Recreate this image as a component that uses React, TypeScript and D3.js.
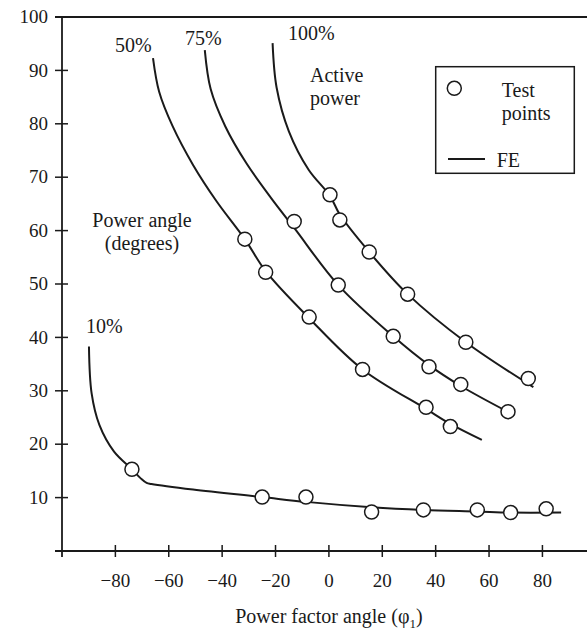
import React from "react";
import * as d3 from "d3";

// Test points (power factor angle, power angle in degrees)
const pts10: [number, number][] = [
  [-73.8, 15.3], [-25.0, 10.1], [-8.6, 10.1], [16.0, 7.3], [35.4, 7.7], [55.6, 7.7], [68.1, 7.2], [81.4, 7.9],
];
const pts50: [number, number][] = [
  [-31.5, 58.4], [-23.7, 52.2], [-7.4, 43.8], [12.6, 34.0], [36.4, 26.9], [45.5, 23.3],
];
const pts75: [number, number][] = [
  [-13.0, 61.7], [3.5, 49.8], [24.1, 40.2], [37.5, 34.5], [49.4, 31.2], [67.1, 26.1],
];
const pts100: [number, number][] = [
  [0.4, 66.7], [4.1, 62.0], [15.1, 56.0], [29.5, 48.1], [51.3, 39.1], [74.7, 32.3],
];

// FE curves
const fe10: [number, number][] = [
  [-89.9, 38.3], [-88.9, 29.5], [-86.0, 23.6], [-80.5, 18.6], [-73.8, 15.3], [-70.5, 13.6], [-68.3, 12.75],
  [-66.5, 12.55], [-50.9, 11.5], [-25.0, 10.1], [-8.6, 9.2], [16.0, 8.2], [35.4, 7.7], [55.6, 7.4], [68.1, 7.2], [87.0, 7.2],
];
const fe50: [number, number][] = [
  [-65.9, 92.3], [-63.6, 86.0], [-58.6, 79.6], [-50.9, 72.3], [-42.1, 65.5], [-31.5, 58.4],
  [-23.7, 52.4], [-7.4, 43.6], [12.6, 34.0], [36.4, 26.6], [45.5, 23.8], [57.3, 20.8],
];
const fe75: [number, number][] = [
  [-46.5, 93.8], [-44.3, 86.5], [-38.8, 79.5], [-30.9, 72.6], [-21.5, 66.0], [-13.0, 60.5],
  [3.5, 49.8], [24.1, 40.2], [37.5, 34.8], [49.4, 30.9], [67.3, 26.0],
];
const fe100: [number, number][] = [
  [-21.1, 95.1], [-19.6, 86.8], [-15.0, 78.6], [-7.6, 71.4], [0.4, 66.5], [4.1, 63.0],
  [15.1, 56.0], [29.5, 48.1], [51.3, 39.1], [76.6, 30.7],
];

const xTicks = [-80, -60, -40, -20, 0, 20, 40, 60, 80];
const yTicks = [10, 20, 30, 40, 50, 60, 70, 80, 90, 100];

const W = 587;
const H = 631;
const FONT = "'Liberation Serif', 'Times New Roman', serif";
const INK = "#1a1a1a";

export default function App() {
  const x = d3.scaleLinear().domain([-100, 96.7]).range([62, 587]);
  const y = d3.scaleLinear().domain([0, 100]).range([551, 17]);
  const line = d3
    .line<[number, number]>()
    .x((d) => x(d[0]))
    .y((d) => y(d[1]))
    .curve(d3.curveCatmullRom.alpha(0.5));

  const curves = [fe10, fe50, fe75, fe100];
  const points = [...pts10, ...pts50, ...pts75, ...pts100];
  const fmt = (v: number) => (v < 0 ? "\u2212" + Math.abs(v) : String(v));

  return (
    <svg
      width={W}
      height={H}
      style={{ position: "absolute", left: 0, top: 0, background: "#fff" }}
      fontFamily={FONT}
    >
      <rect x={0} y={0} width={W} height={H} fill="#fff" />
      {/* axes */}
      <line x1={x(-100)} x2={x(-100)} y1={y(100)} y2={y(0) + 6} stroke={INK} strokeWidth={1.8} />
      <line x1={x(-100) - 7} x2={W} y1={y(0)} y2={y(0)} stroke={INK} strokeWidth={1.8} />
      <line x1={x(-100) - 7} x2={W} y1={y(100)} y2={y(100)} stroke={INK} strokeWidth={1.8} />
      {yTicks.map((t) => (
        <g key={"y" + t}>
          <line x1={x(-100) - 7} x2={x(-100) + 6} y1={y(t)} y2={y(t)} stroke={INK} strokeWidth={1.5} />
          <text x={48} y={y(t)} dy="0.33em" textAnchor="end" fontSize={19} fill={INK}>
            {t}
          </text>
        </g>
      ))}
      {xTicks.map((t) => (
        <g key={"x" + t}>
          <line x1={x(t)} x2={x(t)} y1={y(0) - 6} y2={y(0) + 6} stroke={INK} strokeWidth={1.5} />
          <text x={x(t)} y={y(0) + 36} textAnchor="middle" fontSize={19} fill={INK}>
            {fmt(t)}
          </text>
        </g>
      ))}
      <text x={x(0)} y={623} textAnchor="middle" fontSize={20} fill={INK}>
        Power factor angle (φ
        <tspan fontSize={13} dy={5}>1</tspan>
        <tspan dy={-5}>)</tspan>
      </text>

      {/* FE curves */}
      {curves.map((c, i) => (
        <path key={"c" + i} d={line(c) || ""} fill="none" stroke={INK} strokeWidth={2} />
      ))}
      {/* test points */}
      {points.map((p, i) => (
        <circle key={"p" + i} cx={x(p[0])} cy={y(p[1])} r={7} fill="#fff" stroke={INK} strokeWidth={1.5} />
      ))}

      {/* annotations */}
      <text x={115} y={52} fontSize={20} fill={INK}>50%</text>
      <text x={185} y={45} fontSize={20} fill={INK}>75%</text>
      <text x={288} y={40} fontSize={20} fill={INK}>100%</text>
      <text x={86} y={333} fontSize={20} fill={INK}>10%</text>
      <text x={310} y={82} fontSize={20} fill={INK}>Active</text>
      <text x={310} y={105} fontSize={20} fill={INK}>power</text>
      <text x={142} y={227} textAnchor="middle" fontSize={20} fill={INK}>Power angle</text>
      <text x={142} y={250} textAnchor="middle" fontSize={20} fill={INK}>(degrees)</text>

      {/* legend */}
      <rect x={435.7} y={66.7} width={138.6} height={106.6} fill="#fff" stroke={INK} strokeWidth={1.5} />
      <circle cx={454.3} cy={88.3} r={7} fill="#fff" stroke={INK} strokeWidth={1.5} />
      <text x={501.7} y={96.7} fontSize={20} fill={INK}>Test</text>
      <text x={501.7} y={120} fontSize={20} fill={INK}>points</text>
      <line x1={448} x2={485} y1={159} y2={159} stroke={INK} strokeWidth={2} />
      <text x={496.7} y={166.7} fontSize={20} fill={INK}>FE</text>
    </svg>
  );
}
